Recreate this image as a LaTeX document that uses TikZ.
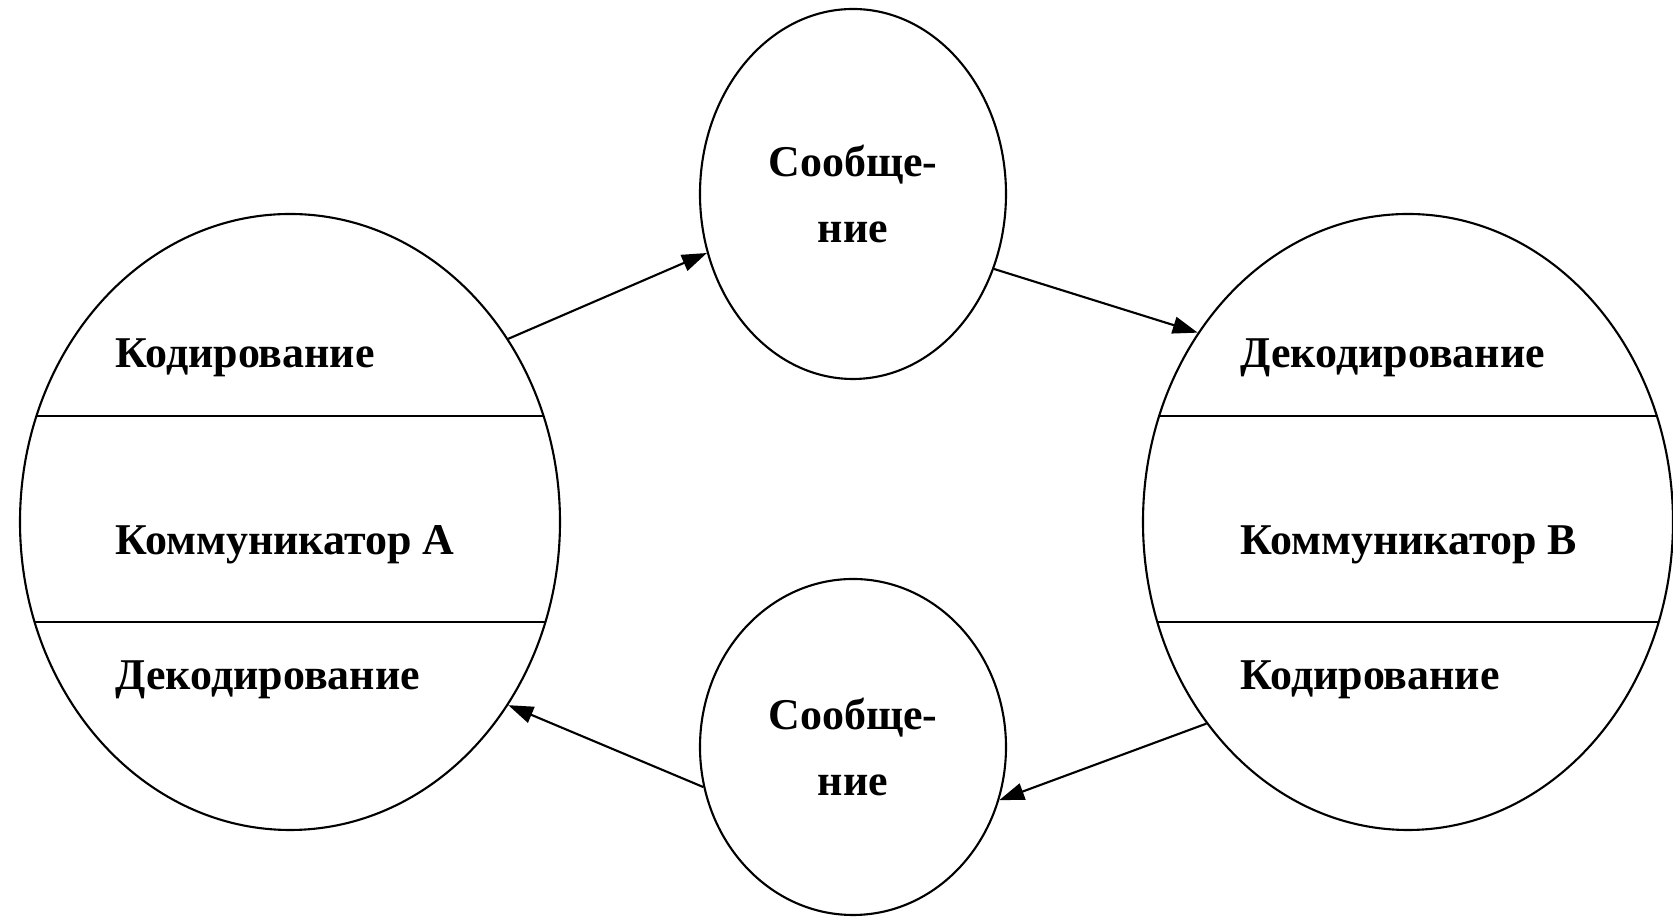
\documentclass[tikz,border=0pt]{standalone}
\usepackage{fontspec}
\setmainfont{Liberation Serif}
\usepackage{tikz}
\usetikzlibrary{arrows.meta}
\usetikzlibrary{shapes.geometric,positioning}

\begin{document}
\begin{tikzpicture}[x=1cm,y=-1cm,>={Triangle[length=0.25cm,width=0.17cm]},
  comm/.style={ellipse,draw,line width=0.6pt,minimum height=6.16cm,inner sep=0pt},
  msg/.style={ellipse,draw,line width=0.6pt,minimum width=3.06cm,inner sep=0pt,
    align=center,font=\fontsize{12.5}{19}\selectfont\bfseries},
  lbl/.style={anchor=base west,inner sep=0pt,font=\fontsize{12.5}{15}\selectfont\bfseries},
  link/.style={->,line width=0.6pt}]
\useasboundingbox (0,0) rectangle (16.73,9.19);
\node[comm,minimum width=5.40cm] (ca) at (2.90,5.22) {};
\node[comm,minimum width=5.30cm] (cb) at (14.08,5.22) {};
\node[msg,minimum height=3.70cm] (m1) at (8.53,1.94) {Сообще-\\ние};
\node[msg,minimum height=3.36cm] (m2) at (8.53,7.47) {Сообще-\\ние};
% chords
\begin{scope}
  \clip (ca.center) ellipse [x radius=2.70cm, y radius=3.08cm];
  \draw[line width=0.6pt] (0,4.16) -- (6,4.16) (0,6.22) -- (6,6.22);
\end{scope}
\begin{scope}
  \clip (cb.center) ellipse [x radius=2.65cm, y radius=3.08cm];
  \draw[line width=0.6pt] (11,4.16) -- (17,4.16) (11,6.22) -- (17,6.22);
\end{scope}
% labels
\node[lbl] (ca1) at (1.15,3.68) {Кодирование};
\node[lbl] (ca2) at (1.15,5.55) {Коммуникатор А};
\node[lbl] (ca3) at (1.15,6.90) {Декодирование};
\node[lbl] (cb1) at (12.40,3.68) {Декодирование};
\node[lbl] (cb2) at (12.40,5.55) {Коммуникатор В};
\node[lbl] (cb3) at (12.40,6.90) {Кодирование};
% arrows
\draw[link] (ca.40.5) -- (m1.202);
\draw[link] (m1.332) -- (cb.138);
\draw[link] (cb.225) -- (m2.340);
\draw[link] (m2.195) -- (ca.320);
\end{tikzpicture}
\end{document}
